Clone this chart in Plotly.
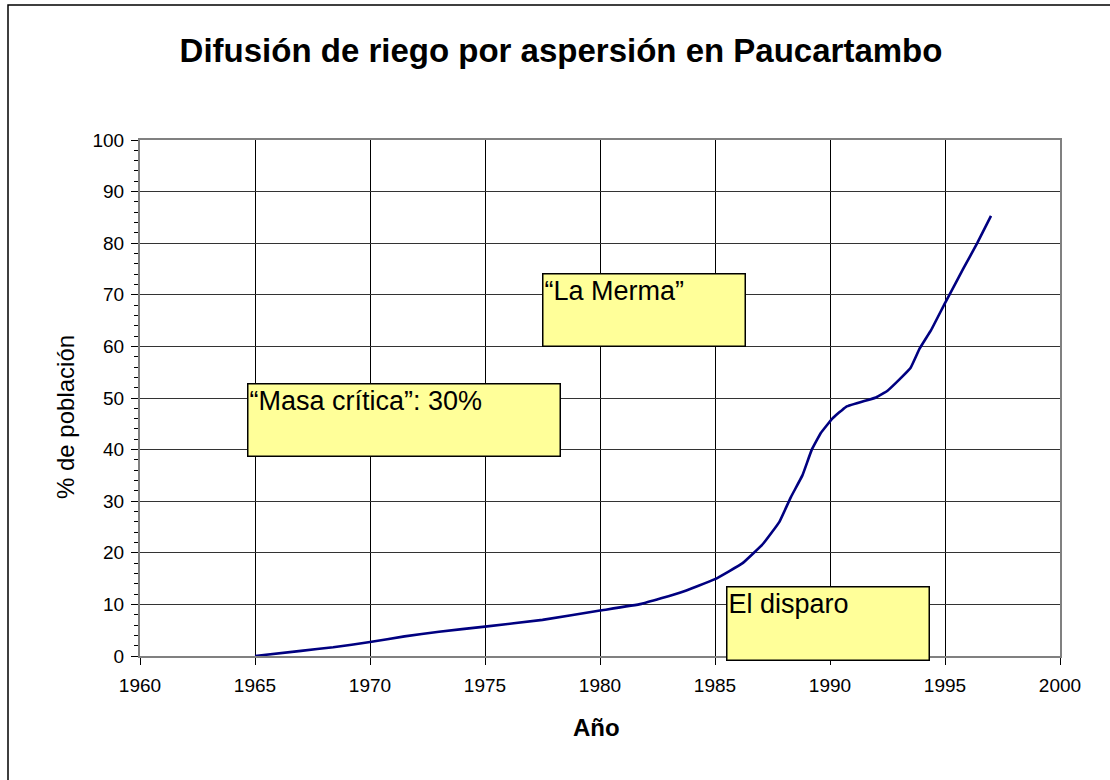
import plotly.graph_objects as go

# Data
years = [1965, 1967, 1968.4, 1970, 1971.5, 1973, 1975, 1977.5, 1980, 1981.8,
         1983.5, 1985, 1986.2, 1987.1, 1987.8, 1988.3, 1988.8, 1989.2, 1989.6,
         1990.1, 1990.7, 1992.0, 1992.5, 1993.0, 1993.5, 1993.9, 1994.4,
         1995.0, 1995.8, 1996.4, 1997.0]
pct = [0, 1.0, 1.7, 2.7, 3.8, 4.7, 5.7, 7.0, 8.8, 10.1,
       12.3, 14.9, 18.0, 21.8, 26.0, 30.8, 35.0, 39.9, 43.2,
       46.0, 48.3, 50.1, 51.4, 53.5, 55.8, 59.6, 63.2,
       68.4, 75.1, 80.0, 85.3]

x_ticks = [1960, 1965, 1970, 1975, 1980, 1985, 1990, 1995, 2000]
y_ticks = [0, 10, 20, 30, 40, 50, 60, 70, 80, 90, 100]

notes = ["“Masa crítica”: 30%", "“La Merma”", "El disparo"]
note_x = [1964.64, 1977.47, 1985.48]
note_y = [52.85, 74.3, 13.6]
note_w = [309, 199, 199]
note_h = [69, 69, 70]

FONT = "Liberation Sans, Arial, sans-serif"

W, H = 1110, 780
ML, MR, MT, MB = 140, 50, 140, 124
PW, PH = W - ML - MR, H - MT - MB

fig = go.Figure()
fig.add_trace(go.Scatter(
    x=years, y=pct, mode="lines",
    line=dict(color="#000080", width=2.6, shape="spline", smoothing=0.3),
    showlegend=False, hoverinfo="x+y"))

fig.update_layout(
    width=W, height=H,
    margin=dict(l=ML, r=MR, t=MT, b=MB),
    paper_bgcolor="white", plot_bgcolor="white",
    font=dict(family=FONT, color="black"),
    title=dict(text="<b>Difusión de riego por aspersión en Paucartambo</b>",
               font=dict(family=FONT, size=33, color="black"),
               x=561 / W, xanchor="center", xref="container",
               y=1 - 50 / H, yanchor="middle", yref="container"),
    xaxis=dict(range=[1960, 2000], tickvals=x_ticks,
               ticktext=[str(v) for v in x_ticks],
               showgrid=True, gridcolor="black", gridwidth=1,
               showline=True, linecolor="#808080", linewidth=2, mirror=True,
               ticks="outside", ticklen=7, tickcolor="black", tickwidth=1,
               tickfont=dict(family=FONT, size=19, color="black"),
               ticklabelstandoff=4,
               zeroline=False, fixedrange=True),
    yaxis=dict(range=[0, 100], tickvals=y_ticks,
               showgrid=True, gridcolor="#333333", gridwidth=1,
               showline=True, linecolor="#808080", linewidth=2, mirror=True,
               ticks="outside", ticklen=7, tickcolor="black", tickwidth=1,
               minor=dict(dtick=2, ticks="outside", ticklen=4,
                          tickcolor="black", showgrid=False),
               tickfont=dict(family=FONT, size=19, color="black"),
               ticklabelstandoff=3,
               zeroline=False, fixedrange=True),
)

annotations = []
# axis titles
annotations.append(dict(text="% de población", textangle=-90,
                        xref="paper", yref="paper",
                        x=(65 - ML) / PW, y=(MT + PH - 417) / PH,
                        xanchor="center", yanchor="middle", showarrow=False,
                        font=dict(family=FONT, size=24, color="black")))
annotations.append(dict(text="<b>Año</b>",
                        xref="paper", yref="paper",
                        x=(596 - ML) / PW, y=(MT + PH - 727) / PH,
                        xanchor="center", yanchor="middle", showarrow=False,
                        font=dict(family=FONT, size=24, color="black")))
# yellow boxes
for t, xx, yy, ww, hh in zip(notes, note_x, note_y, note_w, note_h):
    annotations.append(dict(text=t, xref="x", yref="y", x=xx, y=yy,
                            xanchor="left", yanchor="top", showarrow=False,
                            align="left", valign="top", width=ww, height=hh,
                            bgcolor="#FFFF99", bordercolor="black",
                            borderwidth=1.5, borderpad=1,
                            font=dict(family=FONT, size=27, color="black")))
fig.update_layout(annotations=annotations)

# outer chart border (right & bottom edges lie outside the visible page)
fig.add_shape(type="rect", xref="paper", yref="paper",
              x0=(8 - ML) / PW, x1=(1120 - ML) / PW,
              y0=(MT + PH - 790) / PH, y1=(MT + PH - 5) / PH,
              line=dict(color="black", width=1.5), fillcolor="rgba(0,0,0,0)",
              layer="below")

fig.write_html("out.html",
               config={"displayModeBar": False},
               post_script="document.body.style.margin='0';"
                           "document.body.style.overflow='hidden';")
